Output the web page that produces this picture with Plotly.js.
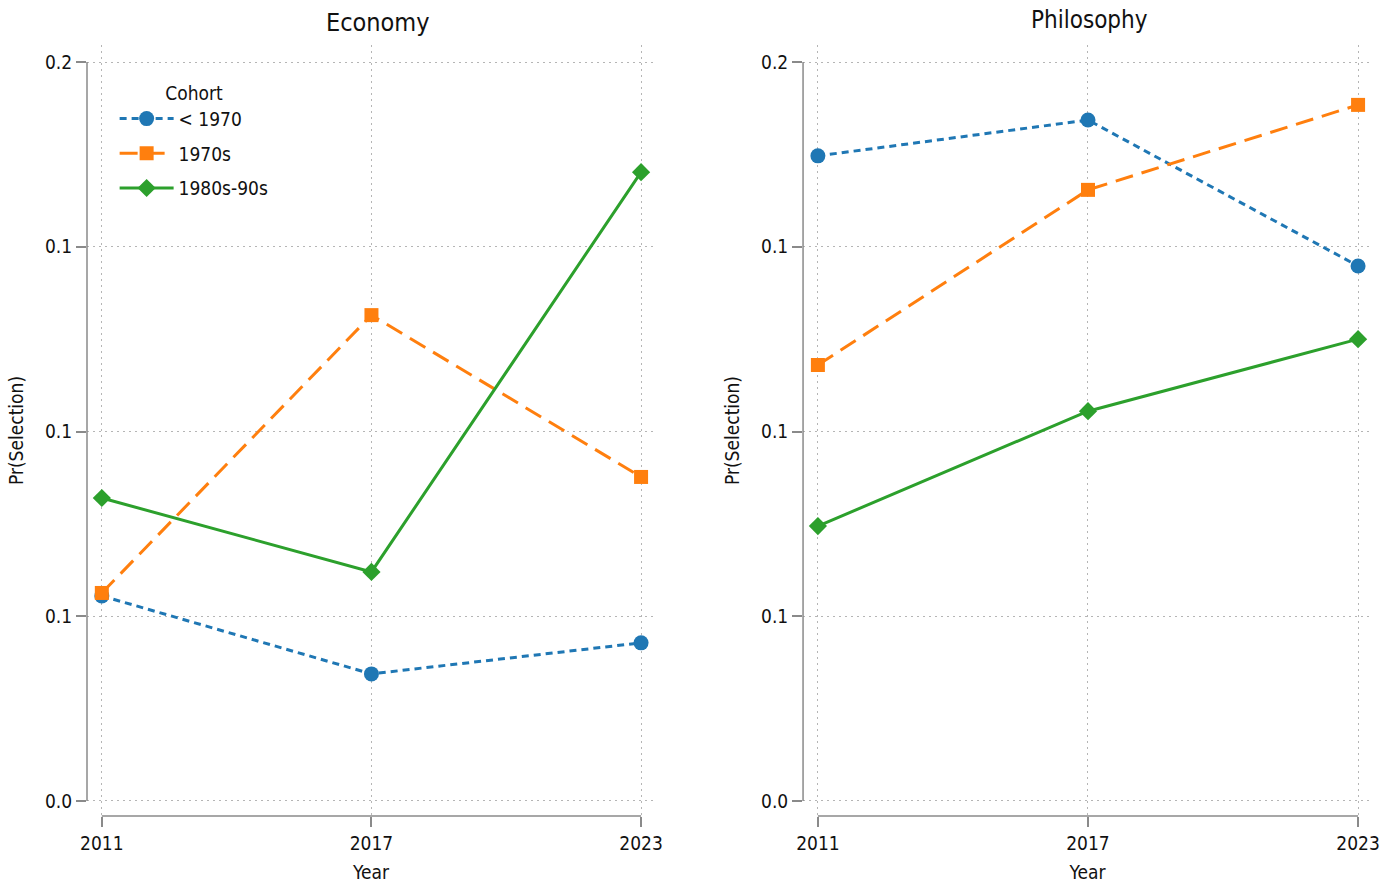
<!DOCTYPE html>
<html>
<head>
<meta charset="utf-8">
<script src="https://cdn.plot.ly/plotly-3.0.1.min.js"></script>
<style>html,body{margin:0;padding:0;background:#fff;}#chart{width:1381px;height:883px;}</style>
</head>
<body>
<div id="chart"></div>
<script>
// ---- data ----
var years = [2011, 2017, 2023];
var cohorts = ["< 1970", "1970s", "1980s-90s"];
var panelTitles = ["Economy", "Philosophy"];
var econPre1970 = [0.0555, 0.0344, 0.0428];
var econ1970s = [0.0563, 0.1315, 0.0877];
var econ1980s90s = [0.0820, 0.0620, 0.1702];
var philPre1970 = [0.1746, 0.1843, 0.1448];
var phil1970s = [0.1180, 0.1654, 0.1884];
var phil1980s90s = [0.0744, 0.1055, 0.1250];
var yTickVals = [0, 0.05, 0.1, 0.15, 0.2];
var yTickText = ["0.0", "0.1", "0.1", "0.1", "0.2"];
var xTickVals = [2011, 2017, 2023];
var xTickText = ["2011", "2017", "2023"];

// ---- styles ----
var FONT = '"DejaVu Sans Condensed", "DejaVu Sans", sans-serif';
var colors = ["#1f77b4", "#ff7f0e", "#2ca02c"];
var dashes = ["7px,5px", "18px,9px", "solid"];
var symbols = ["circle", "square", "diamond"];
var sizes = [15, 14, 14];
var axisColor = "#8a8a8a";

var panels = [
  {x: "x", y: "y", series: [econPre1970, econ1970s, econ1980s90s]},
  {x: "x2", y: "y2", series: [philPre1970, phil1970s, phil1980s90s]}
];

var traces = [];
panels.forEach(function (p, pi) {
  p.series.forEach(function (vals, si) {
    traces.push({
      type: "scatter", mode: "lines+markers",
      x: years, y: vals, xaxis: p.x, yaxis: p.y,
      name: cohorts[si], legendgroup: "g" + si, showlegend: pi === 0,
      line: {color: colors[si], width: 3, dash: dashes[si]},
      marker: {color: colors[si], symbol: symbols[si], size: sizes[si], line: {width: 0}}
    });
  });
});

function xAxis(domain, anchor) {
  return {
    domain: domain, anchor: anchor, range: [2010.67, 2023.31],
    tickvals: xTickVals, ticktext: xTickText,
    ticks: "outside", ticklen: 10, tickwidth: 1.5, tickcolor: axisColor,
    showline: false, zeroline: false,
    showgrid: true, gridcolor: "#b5b5b5", gridwidth: 1, griddash: "2px,4px",
    tickfont: {family: FONT, size: 19, color: "#111"},
    title: {text: "Year", font: {family: FONT, size: 19, color: "#111"}, standoff: 14},
    automargin: false
  };
}
function yAxis(anchor) {
  return {
    domain: [0.0759, 0.949], anchor: anchor, range: [-0.00406, 0.2046],
    tickvals: yTickVals, ticktext: yTickText,
    ticks: "outside", ticklen: 10, tickwidth: 1.5, tickcolor: axisColor,
    showline: false, zeroline: false,
    showgrid: true, gridcolor: "#b5b5b5", gridwidth: 1, griddash: "2px,4px",
    tickfont: {family: FONT, size: 19, color: "#111"},
    title: {text: "Pr(Selection)", font: {family: FONT, size: 19, color: "#111"}, standoff: 16},
    automargin: false
  };
}

var shapes = [];
[["x", "y"], ["x2", "y2"]].forEach(function (ax) {
  shapes.push({type: "line", xref: ax[0] + " domain", yref: ax[1], x0: 0, x1: 0, y0: 0, y1: 0.2,
               line: {color: axisColor, width: 1.5}});
  shapes.push({type: "line", xref: ax[0], yref: ax[1] + " domain", x0: 2011, x1: 2023, y0: 0, y1: 0,
               line: {color: axisColor, width: 1.5}});
});

var annotations = [
  {text: panelTitles[0], xref: "x domain", yref: "paper", x: 0.5, y: 0.974, xanchor: "center", yanchor: "middle",
   xshift: 7, showarrow: false, font: {family: FONT, size: 25, color: "#111"}},
  {text: panelTitles[1], xref: "x2 domain", yref: "paper", x: 0.5, y: 0.977, xanchor: "center", yanchor: "middle",
   xshift: 2, showarrow: false, font: {family: FONT, size: 24, color: "#111"}}
];

var layout = {
  width: 1381, height: 883,
  margin: {l: 0, r: 0, t: 0, b: 0},
  paper_bgcolor: "#ffffff", plot_bgcolor: "#ffffff",
  font: {family: FONT, size: 19, color: "#111"},
  xaxis: xAxis([0.063, 0.4743], "y"),
  yaxis: yAxis("x"),
  xaxis2: xAxis([0.5815, 0.9935], "y2"),
  yaxis2: yAxis("x2"),
  shapes: shapes,
  annotations: annotations,
  showlegend: true,
  legend: {
    x: 0.083, y: 0.915, xanchor: "left", yanchor: "top",
    bgcolor: "rgba(0,0,0,0)", borderwidth: 0,
    font: {family: FONT, size: 19, color: "#111"},
    title: {text: "Cohort", side: "top center", font: {family: FONT, size: 19, color: "#111"}},
    itemwidth: 54,
    tracegroupgap: 7, traceorder: "grouped"
  }
};

Plotly.newPlot("chart", traces, layout, {displayModeBar: false, responsive: false});
</script>
</body>
</html>
